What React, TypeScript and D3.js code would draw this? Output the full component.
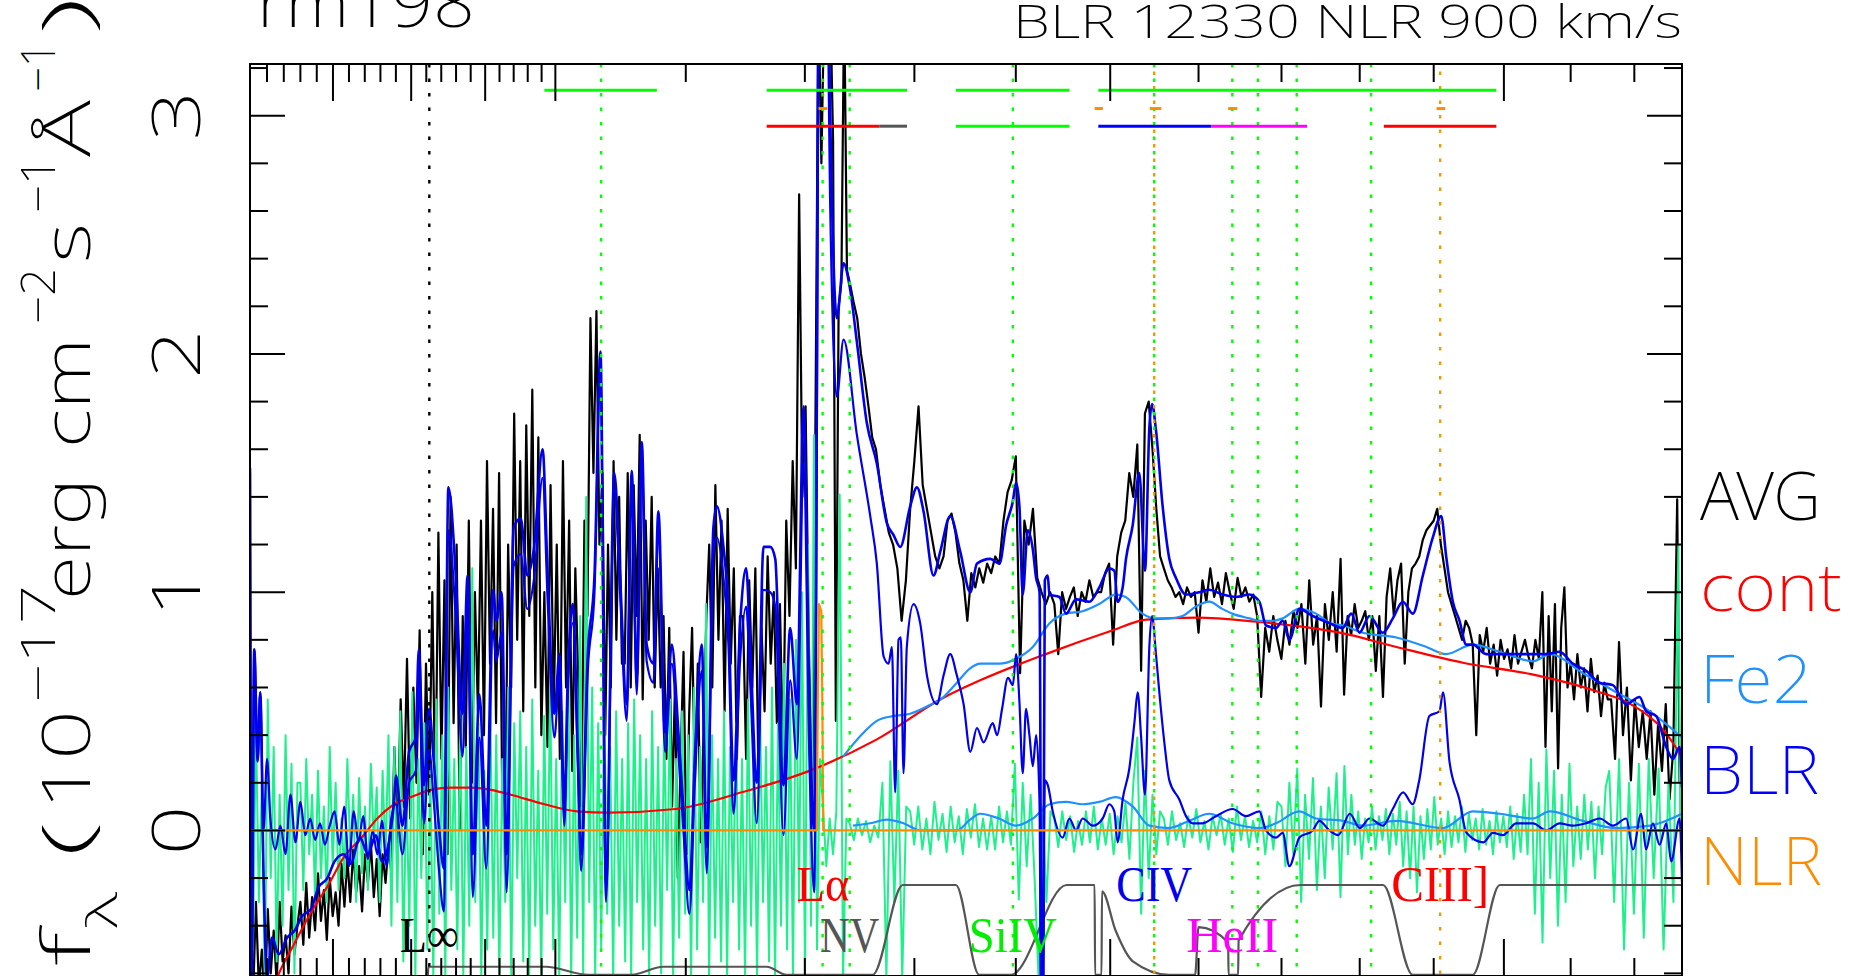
import React, { useEffect, useRef } from 'react';
import * as d3 from 'd3';

type Seg = [number, number, number[]];
type Pt = [number, number];

// AVG spectrum, read in wavelength chunks: [from Å, to Å, flux values]
const avgSegs: Seg[] = [
  [800, 830, [-0.45, -0.72, -0.3, -0.66, -0.5, -0.72, -0.33, -0.6, -0.42, -0.64, -0.3, -0.55, -0.44, -0.6, -0.32, -0.52, -0.4]],
  [830, 889, [-0.3, -0.48, -0.22, -0.45, -0.28, -0.42, -0.18, -0.38, -0.25, -0.46, -0.2, -0.36, -0.26, -0.4, -0.14, -0.32, -0.12, -0.3, -0.08, -0.26, -0.15, -0.34, -0.1, -0.22, -0.05, -0.28, -0.12, -0.36, -0.1, -0.22, -0.06, -0.18]],
  [889, 914, [0.35, -0.05, 0.55, 0.1, 0.72, 0.05, 0.6, 0.2, 0.84, -0.1, 0.7, 0.15]],
  [914, 945, [1.0, 0.1, 1.25, 0.3, 1.05, -0.1, 1.4, 0.45, 1.2, 0.0, 0.9, 0.35, 1.3, 0.2, 1.0]],
  [945, 992, [0.5, 1.3, 0.4, 1.55, 0.7, 1.35, 0.45, 1.5, 0.2, -0.05, 1.2, 0.6, 1.75, 0.8, 1.55, 0.5, 1.7, 0.9, 1.85, 0.6, 1.65, 0.4]],
  [992, 1017, [1.0, 0.35, 1.45, 0.5, 1.2, 0.3, 1.55, 0.6, 1.3, 0.25, 1.1]],
  [1017, 1035, [0.6, 0.1, 1.3, 0.9, 2.15, 1.5, 2.18, 1.2]],
  [1035, 1052, [1.5, 0.4, 1.2, 0.6, 1.55, 0.8, 1.4, 0.7]],
  [1052, 1080, [0.7, 1.5, 0.6, 1.45, 0.9, 1.66, 0.55, 1.3, 0.8, 1.4, 0.6, 1.1]],
  [1080, 1119, [0.6, 0.9, 0.3, 0.85, 0.1, 0.6, -0.2, 0.3, 0.75, -0.1, 0.5, 0.85, 0.2, 0.7, -0.05, 0.4, 0.9]],
  [1119, 1147, [1.2, 0.6, 1.45, 0.8, 1.3, 0.5, 1.35, 0.7, 1.1, 0.3, 0.9]],
  [1147, 1181, [0.9, 0.3, 1.05, 0.6, 1.1, 0.25, 0.85, 0.5, 1.15, 0.7, 1.0, 0.45, 0.95]],
  [1181, 1212, [0.3, 1.3, 0.9, 1.55, 1.1, 2.67, 1.4, 1.78, 0.8, 0.05, 1.6]],
  [1212, 1225, [3.5, 2.8, 3.5, 3.6, 3.5]],
  [1225, 1240, [2.9, 0.46, 2.2, 2.3, 3.5, 2.35]],
  [1240, 1264, [2.3, 2.22, 2.15, 2.0, 1.9, 1.78, 1.65]],
  [1264, 1296, [1.6, 1.45, 1.35, 1.25, 1.2, 1.1, 0.88, 1.05]],
  [1296, 1328, [1.35, 1.55, 1.78, 1.45, 1.35, 1.25, 1.15, 1.1]],
  [1328, 1375, [1.15, 1.3, 1.33, 1.25, 1.12, 1.05, 0.88, 1.08, 1.02, 1.1, 1.04, 1.12]],
  [1375, 1400, [1.08, 1.15, 1.12, 1.3, 1.42, 1.47]],
  [1400, 1440, [1.57, 0.66, 1.3, 1.2, 1.35, 1.06, 1.0, 0.95, 1.0]],
  [1440, 1490, [0.95, 0.74, 1.0, 0.93, 0.98, 1.02, 0.9, 1.0, 0.96, 1.05, 0.98, 1.0]],
  [1490, 1530, [1.0, 1.08, 1.12, 0.78, 1.15, 1.25, 1.3, 1.5, 1.4]],
  [1530, 1560, [1.62, 0.67, 1.75, 1.8, 1.6, 1.35, 1.15]],
  [1560, 1600, [1.1, 1.05, 1.02, 0.98, 1.0, 0.95, 1.02, 0.98, 1.0]],
  [1600, 1670, [0.83, 1.05, 0.96, 1.1, 0.98, 1.04, 0.95, 1.08, 1.0, 0.93, 1.06, 0.98, 1.02, 0.96, 0.99]],
  [1670, 1720, [0.9, 0.56, 0.85, 0.75, 0.9, 0.8, 0.72, 0.88, 0.78, 0.92]],
  [1720, 1775, [0.85, 0.95, 0.7, 1.05, 0.78, 0.9, 0.52, 0.95, 0.8, 1.0, 0.75]],
  [1775, 1826, [1.14, 0.57, 0.9, 0.82, 0.95, 0.85, 0.88, 0.92, 0.8, 0.9, 0.67]],
  [1826, 1880, [0.9, 0.56, 0.98, 1.1, 0.9, 1.05, 1.12, 0.7, 1.0, 1.1, 1.12]],
  [1880, 1915, [1.15, 1.22, 1.26, 1.28, 1.3, 1.35, 1.2]],
  [1915, 1960, [1.1, 1.0, 0.95, 0.9, 0.85, 0.8, 0.88, 0.85, 0.78]],
  [1960, 2057, [0.4, 0.82, 0.75, 0.85, 0.7, 0.78, 0.65, 0.8, 0.72, 0.76, 0.68, 0.82, 0.7, 0.75, 0.8, 0.73, 0.68, 0.8, 0.72]],
  [2057, 2100, [1.0, 0.35, 0.9, 0.5, 0.95, 0.26, 0.85, 1.02, 0.6]],
  [2100, 2163, [0.7, 0.55, 0.74, 0.6, 0.68, 0.5, 0.72, 0.58, 0.65, 0.48, 0.62, 0.55]],
  [2163, 2220, [0.55, 0.3, 0.79, 0.4, 0.6, 0.21, 0.55, 0.35, 0.5]],
  [2220, 2270, [0.3, 0.5, 0.15, 0.45, 0.25, 0.53, 0.13, 0.35]],
  [2270, 2278, [1.39, 0.2]],
];

// residual (data - model)
const residSegs: Seg[] = [
  [800, 830, [0.3, -0.5, 0.45, -0.3, 0.2, -0.65, 0.55, -0.2, 0.35, -0.55, 0.15, -0.4, 0.4, -0.25, 0.28, -0.6, 0.2]],
  [830, 889, [0.2, -0.25, 0.3, -0.1, 0.15, -0.28, 0.25, -0.2, 0.1, -0.3, 0.35, -0.15, 0.2, -0.25, 0.05, -0.2, 0.3, -0.1, 0.15, -0.3, 0.22, -0.18, 0.1, -0.25, 0.28, -0.05, 0.18, -0.3, 0.25, -0.12, 0.4, -0.4]],
  [889, 1216, [
    0.35, -0.3, 0.5, -0.55, 0.2, -0.4, 0.58, -0.62, 0.3, -0.2, 0.45, -0.5,
    0.25, -0.62, 0.55, -0.35, 0.4, -0.62, 0.6, -0.25, 0.3, -0.5, 0.5, -0.62,
    0.35, -0.4, 1.1, -0.3, 0.45, -0.62, 0.25, -0.5, 0.55, -0.45, 0.4, -0.62,
    0.3, -0.3, 0.6, -0.62, 0.45, -0.2, 0.5, -0.55, 0.35, -0.62, 0.55, -0.4,
    0.25, -0.62, 0.48, -0.35, 0.6, -0.5, 0.3, -0.62, 0.5, -0.3, 0.7, -0.62,
    0.4, -0.45, 0.9, -0.62, 1.4, -0.3, 0.6, -0.62, 0.45, -0.5, 0.55, -0.35,
    0.35, -0.62, 0.5, -0.4, 0.3, -0.55, 0.45, -0.62, 0.55, -0.3, 0.4, -0.5,
    0.3, -0.62, 0.5, -0.4, 0.35, -0.6, 0.45, -0.25, 0.55, -0.62, 0.3, -0.45,
    0.5, -0.35, 0.4, -0.62, 0.6, -0.5, 0.35, -0.3, 0.95, -0.62, 0.4, -0.45,
    0.3, -0.55, 0.5, -0.62, 0.35, -0.3, 0.45, -0.5, 0.3, -0.62, 0.55, -0.4,
    0.4, -0.62, 0.5, -0.3, 0.35, -0.55, 0.6, -0.62, 0.45, -0.4, 0.7, -0.5,
    0.55, -0.62, 0.8, -0.3, 1.0, -0.62, 1.2, -0.4, 1.66, -0.5, 0.3,
  ]],
  [1216, 1240, [0.1, -0.15, 0.05, -0.1, 0.08, 1.41, -0.62, 0.05]],
  [1240, 1270, [0.03, -0.04, 0.05, -0.02, 0.04, -0.05, 0.02, -0.03]],
  [1270, 1296, [0.2, -0.62, 0.29, -0.3, 0.25, -0.62, 0.1]],
  [1296, 1375, [0.08, -0.06, 0.1, -0.08, 0.05, -0.1, 0.12, -0.04, 0.07, -0.09, 0.1, -0.05, 0.06, -0.1, 0.09, -0.03, 0.11, -0.07, 0.05, -0.08]],
  [1375, 1440, [0.06, -0.08, 0.1, -0.05, 0.08, -0.06, 0.28, -0.29, 0.2, -0.15, 0.15, -0.2, -0.62, 0.1, -0.3, 0.08]],
  [1440, 1530, [0.05, -0.07, 0.08, -0.04, 0.06, -0.09, 0.04, -0.06, 0.08, -0.05, 0.1, -0.08, 0.05, -0.06, 0.07, -0.1, 0.06, -0.05, 0.12, -0.12, 0.2]],
  [1530, 1560, [0.39, -0.35, 0.25, -0.2, 0.15, -0.1, 0.08]],
  [1560, 1700, [0.05, -0.06, 0.08, -0.04, 0.03, -0.07, 0.06, -0.03, 0.09, -0.05, 0.04, -0.08, 0.06, -0.02, 0.07, -0.06, 0.05, -0.09, 0.1, -0.04, 0.06, -0.07, 0.04, -0.05, 0.08, -0.1, 0.06, -0.08, 0.12]],
  [1700, 1780, [0.1, -0.15, 0.2, -0.1, 0.26, -0.3, 0.15, -0.12, 0.22, -0.25, 0.1, -0.2, 0.18, -0.08, 0.24, -0.28]],
  [1780, 2040, [0.27, -0.1, 0.15, -0.06, 0.08, -0.12, 0.05, -0.05, 0.1, -0.08, 0.06, -0.04, 0.09, -0.1, 0.07, -0.06, 0.12, -0.15, 0.08, -0.2, 0.1, -0.26, 0.06, -0.12, 0.09, -0.08, 0.14, -0.06, 0.05, -0.1, 0.08, -0.07, 0.06, -0.05, 0.1, -0.09, 0.07, -0.04, 0.05, -0.08, 0.09, -0.06, 0.04, -0.1, 0.08, -0.05, 0.06, -0.07, 0.1, -0.12, 0.07, -0.09, 0.15, -0.1]],
  [2040, 2110, [0.3, -0.35, 0.2, -0.47, 0.34, -0.2, 0.25, -0.4, 0.15, -0.3, 0.28, -0.15]],
  [2110, 2160, [0.1, -0.12, 0.15, -0.08, 0.12, -0.2, 0.1, -0.1, 0.18]],
  [2160, 2272, [0.25, -0.3, 0.3, -0.5, 0.2, -0.35, 0.28, -0.45, 0.3, -0.2, 0.26, -0.5, 0.2, -0.3]],
  [2272, 2278, [1.2, 0.0]],
];

// power-law continuum
const contPts: Pt[] = [
  [805, -0.9], [816, -0.62], [826, -0.48], [836, -0.35], [847, -0.23], [857, -0.11], [868, -0.03], [878, 0.05],
  [889, 0.11], [900, 0.14], [913, 0.17], [927, 0.18], [940, 0.18], [954, 0.17], [968, 0.15], [992, 0.11],
  [1016, 0.08], [1040, 0.075], [1092, 0.09], [1146, 0.16], [1204, 0.25], [1264, 0.38], [1327, 0.555], [1364, 0.63],
  [1431, 0.74], [1503, 0.84], [1540, 0.885], [1598, 0.893], [1669, 0.876], [1739, 0.849], [1774, 0.83], [1849, 0.77],
  [1941, 0.704], [2040, 0.656], [2140, 0.584], [2194, 0.53], [2249, 0.416], [2278, 0.31],
];

// continuum + Fe II
const fe2ContPts: Pt[] = [
  [1234, 0.31], [1252.5, 0.41], [1264.8, 0.46], [1280, 0.48], [1296, 0.49], [1312, 0.52], [1328, 0.56], [1341, 0.62],
  [1354, 0.68], [1364, 0.7], [1383, 0.7], [1400, 0.72], [1417.5, 0.77], [1435, 0.87], [1452, 0.91], [1470, 0.92],
  [1488, 0.95], [1506, 0.99], [1517, 0.98], [1535.6, 0.91], [1551, 0.89], [1566, 0.89], [1581.5, 0.9], [1597, 0.94],
  [1612.6, 0.96], [1628, 0.93], [1640, 0.91], [1660.5, 0.89], [1673, 0.88], [1689, 0.88], [1701.5, 0.89], [1722, 0.93],
  [1743.5, 0.91], [1762, 0.87], [1778, 0.86], [1804, 0.83], [1849, 0.81], [1890, 0.77], [1917, 0.74], [1955, 0.78],
  [1994, 0.75], [2043, 0.71], [2068, 0.74], [2119, 0.66], [2171, 0.58], [2225, 0.5], [2278, 0.39],
];

// Fe II alone
const fe2Pts: Pt[] = [
  [1243, 0.02], [1258.7, 0.03], [1274, 0.045], [1289.7, 0.03], [1305.5, 0.0], [1325, 0.0], [1341, 0.0], [1354, 0.045],
  [1364, 0.07], [1383, 0.05], [1400, 0.02], [1417.5, 0.05], [1435, 0.11], [1452, 0.12], [1470, 0.11], [1488, 0.12],
  [1506, 0.14], [1525, 0.1], [1543.5, 0.02], [1566, 0.01], [1589, 0.04], [1612.6, 0.07], [1640, 0.03], [1673, 0.01],
  [1693, 0.03], [1722, 0.08], [1743.5, 0.05], [1778, 0.04], [1804, 0.02], [1849, 0.04], [1913, 0.01], [1955, 0.08],
  [1994, 0.07], [2043, 0.05], [2068, 0.08], [2119, 0.04], [2171, 0.01], [2225, 0.02], [2278, 0.07],
];

// full model (continuum + Fe II + BLR)
const modelPts: Pt[] = [
  [800, 1.52], [801, -0.62], [802.5, 0.76], [804.5, 0.29], [806, 0.58], [808, -0.2], [810, -0.62], [813, -0.45],
  [817, -0.52], [822, -0.45], [826.6, -0.42], [831, -0.36], [836.5, -0.33], [841, -0.24], [846.5, -0.2], [851, -0.13],
  [856.6, -0.1], [861, -0.14], [866.9, -0.03], [872, -0.1], [877, -0.02], [881, -0.13], [885.7, -0.04], [889, 0.14],
  [890, 0.23], [894.3, 0.02], [898.6, 0.33], [903, 0.39], [905, 0.76], [908.5, 0.19], [911.8, 0.51], [915, 0.29],
  [918.4, 0.02], [921.8, -0.16], [924.8, 1.44], [929.8, 1.07], [934.4, 0.49], [937.9, 1.07], [941.4, -0.1], [946, 0.57],
  [950.8, 0.02], [955.5, 1.01], [957.8, 0.88], [961.5, 1.0], [965, -0.1], [970, 1.27], [975, 1.31], [979.7, 1.07],
  [984.6, 1.19], [990.7, 1.6], [994.4, 1.07], [999.3, 0.49], [1003, 0.74], [1006.6, 0.1], [1009, 0.62], [1012.8, 0.95],
  [1016.6, 0.33], [1019, -0.1], [1024, 0.74], [1029, 1.07], [1033.5, 2.01], [1037.7, -0.23], [1044, 1.5], [1048.4, 1.07],
  [1053.5, 0.53], [1057.4, 1.51], [1061.3, 0.64], [1065.2, 1.63], [1069, 0.78], [1074.3, 0.7], [1078.2, 1.34], [1083.5, 0.41],
  [1088.8, 0.78], [1094.1, 0.41], [1098.1, 0.09], [1102.9, -0.25], [1107.5, 0.33], [1112.9, 0.78], [1117, -0.07], [1122.4, 1.27],
  [1125.2, 1.36], [1130.7, 1.19], [1134.8, 0.92], [1139, 0.21], [1144.6, 0.87], [1149.6, 1.1], [1153, 0.78], [1158.6, 0.2],
  [1164.3, 1.19], [1170, 1.19], [1174.3, 1.14], [1181.4, 0.19], [1187.2, 0.85], [1193, 0.53], [1198.9, 1.78], [1204.1, 0.53],
  [1208.2, 0.0], [1213.5, 4.5], [1218, 4.5], [1222.5, 2.99], [1228.4, 2.15], [1234.4, 2.38], [1240.4, 2.27], [1246.5, 2.05],
  [1255.6, 1.71], [1264.8, 1.54], [1274.1, 1.29], [1280.3, 1.24], [1286.6, 1.19], [1296, 1.36], [1302.4, 1.44], [1308.7, 1.34],
  [1318.3, 1.07], [1324.8, 1.17], [1334.5, 1.32], [1344.3, 1.17], [1354.2, 1.0], [1360.8, 1.12], [1374.1, 1.14], [1383.4, 1.12],
  [1390.1, 1.28], [1396.9, 1.38], [1400.3, 1.46], [1403.7, 1.36], [1407.1, 0.99], [1412.3, 1.26], [1417.5, 1.18], [1420.9, 1.06],
  [1424.5, 1.0], [1427.2, -1.5], [1430, 1.05], [1433.1, 1.07], [1434.8, 0.99], [1445.3, 0.98], [1452.4, 0.91], [1463, 0.97],
  [1477.3, 0.96], [1488.1, 1.02], [1499, 1.1], [1504.5, 1.09], [1508.1, 0.96], [1513.7, 1.02], [1517.4, 1.14], [1524.8, 1.28],
  [1532.2, 1.5], [1538.6, 1.09], [1543.5, 1.69], [1546.6, 1.79], [1551, 1.68], [1558.6, 1.36], [1566.2, 1.14], [1573.8, 1.06],
  [1585.4, 0.99], [1600.9, 1.0], [1612.6, 1.01], [1628.4, 0.99], [1644.4, 0.98], [1660.5, 0.99], [1672.7, 0.96], [1680.9, 0.86],
  [1693.2, 0.85], [1701.5, 0.88], [1709.8, 0.8], [1722.4, 0.93], [1739.3, 0.9], [1760.6, 0.87], [1777.9, 0.85], [1788.8, 0.91],
  [1799.7, 0.83], [1812.9, 0.9], [1830.6, 0.83], [1844.1, 0.89], [1857.6, 0.96], [1871.2, 0.91], [1885, 1.07], [1898.8, 1.23],
  [1910.4, 1.32], [1917.4, 1.15], [1926.8, 0.96], [1936.2, 0.88], [1945.7, 0.78], [1955.2, 0.78], [1974.3, 0.74], [1993.6, 0.74],
  [2013.1, 0.74], [2042.7, 0.74], [2062.7, 0.74], [2082.9, 0.75], [2103.3, 0.7], [2123.9, 0.67], [2144.7, 0.62], [2165.7, 0.61],
  [2186.9, 0.53], [2208.4, 0.56], [2219.2, 0.5], [2235.5, 0.48], [2251.9, 0.35], [2263, 0.3], [2274, 0.35], [2278, 0.18],
];

// broad-line component alone
const blrPts: Pt[] = [
  [800, 1.5], [801, -0.62], [802.5, 0.76], [804.5, 0.3], [806, 0.58], [808, 0.0], [810, 0.3], [812, 0.05],
  [815, -0.08], [818, 0.02], [821, -0.1], [824, 0.15], [827, -0.05], [830, 0.12], [833, -0.02], [836, 0.05],
  [839, -0.04], [842, 0.03], [845, -0.06], [848, 0.02], [851, 0.08], [854, -0.06], [857, 0.1], [860, -0.15],
  [863, 0.08], [866, -0.05], [869, 0.06], [872, -0.12], [875, 0.0], [878, -0.1], [881, 0.04], [884, -0.15],
  [887, 0.05], [890, 0.11], [894.3, -0.1], [898.6, 0.2], [903, 0.25], [905, 0.61], [908.5, 0.03], [911.8, 0.34],
  [915, 0.12], [918.4, -0.16], [921.8, -0.34], [924.8, 1.26], [929.8, 0.89], [934.4, 0.31], [937.9, 0.89], [941.4, -0.28],
  [946, 0.39], [950.8, -0.16], [955.5, 0.84], [957.8, 0.71], [961.5, 0.83], [965, -0.26], [970, 1.11], [975, 1.16],
  [979.7, 0.93], [984.6, 1.06], [990.7, 1.48], [994.4, 0.96], [999.3, 0.39], [1003, 0.65], [1006.6, 0.02], [1009, 0.54],
  [1012.8, 0.87], [1016.6, 0.26], [1019, -0.17], [1024, 0.67], [1029, 1.0], [1033.5, 1.94], [1037.7, -0.3], [1044, 1.43],
  [1048.4, 1.0], [1053.5, 0.46], [1057.4, 1.44], [1061.3, 0.57], [1065.2, 1.56], [1069, 0.71], [1074.3, 0.62], [1078.2, 1.26],
  [1083.5, 0.33], [1088.8, 0.7], [1094.1, 0.32], [1098.1, 0.0], [1102.9, -0.35], [1107.5, 0.23], [1112.9, 0.67], [1117, -0.18],
  [1122.4, 1.15], [1125.2, 1.23], [1130.7, 1.06], [1134.8, 0.78], [1139, 0.07], [1144.6, 0.72], [1149.6, 0.94], [1153, 0.62],
  [1158.6, 0.03], [1164.3, 1.01], [1170, 1.0], [1174.3, 0.94], [1181.4, -0.02], [1187.2, 0.63], [1193, 0.3], [1198.9, 1.54],
  [1204.1, 0.28], [1208.2, -0.26], [1213.5, 4.2], [1218, 4.2], [1222.5, 2.6], [1228.4, 1.82], [1234.4, 2.06], [1246.5, 1.66],
  [1258.7, 1.32], [1264.8, 1.12], [1271.1, 0.73], [1275.7, 0.7], [1278.8, 0.77], [1281.9, 0.16], [1285, 0.8], [1287.2, 0.81],
  [1289.7, 0.24], [1292.8, 0.77], [1299.2, 0.95], [1305.5, 0.87], [1312, 0.65], [1321.5, 0.53], [1328, 0.65], [1334.5, 0.74],
  [1341, 0.65], [1347.6, 0.53], [1354.2, 0.33], [1360.8, 0.43], [1367.4, 0.37], [1376.6, 0.45], [1381, 0.4], [1386, 0.51],
  [1392, 0.64], [1397, 0.61], [1400.3, 0.74], [1403.7, 0.54], [1407.1, 0.24], [1410.5, 0.51], [1414, 0.4], [1417.5, 0.27],
  [1421, 0.4], [1424.4, 0.13], [1427.2, -1.5], [1430, 0.21], [1433.1, 0.19], [1438.3, 0.08], [1448.8, -0.03], [1455.9, 0.05],
  [1463, 0.0], [1470.1, 0.05], [1480.9, 0.02], [1491.7, 0.05], [1499, 0.11], [1504.5, 0.08], [1508.1, -0.05], [1513.7, 0.13],
  [1521.1, 0.26], [1526.7, 0.45], [1530.4, 0.58], [1534.1, 0.4], [1538.6, 0.15], [1543.5, 0.77], [1546.6, 0.9], [1551, 0.74],
  [1554.8, 0.58], [1560.5, 0.37], [1566.2, 0.21], [1577.7, 0.13], [1585.4, 0.06], [1593.1, 0.03], [1604.8, 0.03], [1620.5, 0.06],
  [1640.4, 0.09], [1656.4, 0.06], [1672.7, 0.08], [1680.9, 0.0], [1693.2, -0.03], [1701.5, -0.01], [1709.8, -0.15], [1722.4, -0.03],
  [1739.3, 0.0], [1747.7, 0.04], [1760.6, 0.0], [1772, -0.02], [1787, 0.07], [1800, 0.01], [1813, 0.05], [1831, 0.02],
  [1844, 0.09], [1858, 0.16], [1871, 0.11], [1880, 0.21], [1894, 0.48], [1908, 0.5], [1913, 0.58], [1922, 0.29],
  [1936, 0.13], [1946, -0.01], [1970, -0.05], [1984, -0.01], [1998.5, -0.02], [2018, 0.03], [2043, 0.03], [2063, 0.0],
  [2083, 0.03], [2103, 0.02], [2124, 0.03], [2145, 0.05], [2166, 0.02], [2187, 0.05], [2198, -0.08], [2211, 0.07],
  [2219, -0.08], [2230, 0.03], [2241, -0.06], [2252, 0.03], [2260, -0.13], [2274, 0.05], [2278, -0.22],
];

// narrow-line component
const nlrPts: Pt[] = [
  [800, 0], [1210.5, 0], [1211.5, 0.6], [1212.5, 0.95], [1214.5, 0.92], [1215.5, 0.5], [1216.2, 0], [2278, 0],
];

// fitting mask (0..1)
const maskPts: Pt[] = [
  [911, 0], [911.5, 0.09], [993, 0.09], [1024, 0], [1057, 0], [1082, 0.09], [1167, 0.09], [1184, 0],
  [1261, 0], [1289, 1], [1340, 1], [1363, 0], [1395, 0], [1453, 1], [1483, 1], [1483.5, 0],
  [1490.5, 0], [1491, 0.93], [1506, 0.49], [1525, 0.15], [1566, 0], [1596, 0], [1600, 0.53], [1635, 0.36],
  [1635.5, 0], [1647, 0], [1647.5, 0.38], [1724, 1], [1831, 1], [1871, 0], [1955, 0], [1994, 1], [2278, 1],
];

const xMinorTicks = [810, 820, 830, 840, 860, 870, 880, 890, 910, 920, 930, 940, 960, 970, 980, 990, 1100, 1200, 1300, 1400, 1600, 1700, 1800, 1900, 2100, 2200];
const xMajorTicks = [850, 900, 950, 1000, 1500, 2000];
const yTickLabels = [0, 1, 2, 3];

const greenLines = [1034, 1215.67, 1240, 1397, 1549, 1640, 1671, 1719, 1815];
const orangeLines = [1549, 1909];
const lymanLines = [912];

const windowsRow1: [number, number, string][] = [
  [992, 1077, 'g'], [1167, 1293, 'g'], [1340, 1456, 'g'], [1487, 1989, 'g'],
];
const windowsRow2: [number, number, string][] = [
  [1167, 1267, 'r'], [1267, 1293, 'k'], [1340, 1456, 'g'], [1487, 1615, 'b'], [1615, 1732, 'm'], [1832, 1989, 'r'],
];
const nlrWindows: [number, number][] = [[1212, 1220], [1483, 1492], [1544, 1557], [1635, 1646], [1904, 1916]];

const lineLabels = [
  { text: 'L∞', lam: 912, row: 1 },
  { text: 'Lα', lam: 1216, row: 0 },
  { text: 'NV', lam: 1240, row: 1 },
  { text: 'SiIV', lam: 1397, row: 1 },
  { text: 'CIV', lam: 1549, row: 0 },
  { text: 'HeII', lam: 1640, row: 1 },
  { text: 'CIII]', lam: 1909, row: 0 },
];
const legendLabels = ['AVG', 'cont', 'Fe2', 'BLR', 'NLR'];

const COLORS: Record<string, string> = { g: '#00ff00', r: '#ff0000', b: '#0000ff', m: '#ff00ff', k: '#555555' };
const labelColor: Record<string, string> = { 'L∞': '#000', 'Lα': '#ff0000', NV: '#555555', SiIV: '#00ee00', CIV: '#0000ee', HeII: '#ff00ff', 'CIII]': '#ff0000' };
const labelWidth: Record<string, number> = { 'L∞': 59, 'Lα': 53, NV: 59, SiIV: 88, CIV: 76, HeII: 92, 'CIII]': 98 };
const legendColor = ['#000000', '#ff0000', '#1e90ff', '#0000ff', '#ff8c00'];
const legendWidth = [121, 142, 112, 119, 122];

const SERIF = '"Liberation Serif", "DejaVu Serif", serif';
const SANS = '"Noto Sans", Inter, sans-serif';

const expand = (segs: Seg[]): Pt[] =>
  segs.flatMap(([a, b, vals]) => vals.map((v, i) => [a * Math.pow(b / a, i / vals.length), v] as Pt));

const draw = (el: SVGSVGElement) => {
  const svg = d3.select(el);
  svg.selectAll('*').remove();

  const left = 250, right = 1682, top = 64, bottom = 976;
  const x = d3.scaleLog().domain([800, 2278]).range([left, right]);
  const y = d3.scaleLinear().domain([-0.611, 3.217]).range([bottom, top]);
  const maskY = d3.scaleLinear().domain([0, 1]).range([y(-0.606), y(-0.229)]);

  svg.append('rect').attr('width', 1854).attr('height', 976).attr('fill', '#fff');
  svg.append('defs').append('clipPath').attr('id', 'plotClip')
    .append('rect').attr('x', left).attr('y', top).attr('width', right - left).attr('height', bottom - top);

  const g = svg.append('g').attr('clip-path', 'url(#plotClip)');

  const raw = d3.line<Pt>().x((d) => x(d[0])).y((d) => y(d[1]));
  const smooth = d3.line<Pt>().x((d) => x(d[0])).y((d) => y(d[1])).curve(d3.curveMonotoneX);
  const maskLine = d3.line<Pt>().x((d) => x(d[0])).y((d) => maskY(d[1])).curve(d3.curveMonotoneX);

  const addPath = (d: string | null, color: string, w: number) =>
    g.append('path').attr('d', d || '').attr('fill', 'none').attr('stroke', color)
      .attr('stroke-width', w).attr('stroke-linejoin', 'round');

  addPath(raw(expand(avgSegs)), '#000', 2.2);
  addPath(raw(expand(residSegs)), '#1ef08c', 2);
  addPath(maskLine(maskPts), '#555555', 2.2);
  addPath(smooth(contPts), '#ff0000', 2.2);
  addPath(smooth(fe2ContPts), '#1e90ff', 2.2);
  addPath(smooth(fe2Pts), '#1e90ff', 2.2);
  addPath(smooth(blrPts), '#0000ee', 2.2);
  addPath(smooth(modelPts), '#0000ee', 2.6);
  addPath(raw(nlrPts), '#ff8c00', 2.2);

  const vline = (lam: number, color: string, offset: number) =>
    g.append('line').attr('x1', x(lam)).attr('x2', x(lam)).attr('y1', top).attr('y2', bottom)
      .attr('stroke', color).attr('stroke-width', 2.4).attr('stroke-dasharray', '3.5 11')
      .attr('stroke-dashoffset', offset);
  greenLines.forEach((l) => vline(l, '#00ff00', 0));
  orangeLines.forEach((l) => vline(l, '#ee9a00', 7));
  lymanLines.forEach((l) => vline(l, '#000', 0));

  const bar = (a: number, b: number, v: number, color: string) =>
    g.append('line').attr('x1', x(a)).attr('x2', x(b)).attr('y1', y(v)).attr('y2', y(v))
      .attr('stroke', color).attr('stroke-width', 3);
  windowsRow1.forEach(([a, b, c]) => bar(a, b, 3.107, COLORS[c]));
  windowsRow2.forEach(([a, b, c]) => bar(a, b, 2.956, COLORS[c]));
  nlrWindows.forEach(([a, b]) => bar(a, b, 3.03, '#ff8c00'));

  // line identifications
  lineLabels.forEach((l) => {
    svg.append('text').attr('x', x(l.lam)).attr('y', l.row === 0 ? 901 : 952)
      .attr('text-anchor', 'middle').attr('font-family', SERIF).attr('font-size', 50)
      .attr('fill', labelColor[l.text]).attr('textLength', labelWidth[l.text])
      .attr('lengthAdjust', 'spacingAndGlyphs').text(l.text);
  });

  // frame and ticks
  const axes = svg.append('g').attr('stroke', '#000').attr('stroke-width', 2);
  axes.append('rect').attr('x', left).attr('y', top).attr('width', right - left).attr('height', bottom - top)
    .attr('fill', 'none');
  const xt = (lam: number, len: number) => {
    axes.append('line').attr('x1', x(lam)).attr('x2', x(lam)).attr('y1', top).attr('y2', top + len);
    axes.append('line').attr('x1', x(lam)).attr('x2', x(lam)).attr('y1', bottom).attr('y2', bottom - len);
  };
  xMinorTicks.forEach((l) => xt(l, 18));
  xMajorTicks.forEach((l) => xt(l, 37));
  const yt = (v: number, len: number) => {
    axes.append('line').attr('x1', left).attr('x2', left + len).attr('y1', y(v)).attr('y2', y(v));
    axes.append('line').attr('x1', right).attr('x2', right - len).attr('y1', y(v)).attr('y2', y(v));
  };
  d3.range(-3, 17).forEach((i) => yt(i * 0.2, i % 5 === 0 ? 35 : 18));

  const txt = (t: string, xx: number, yy: number, size: number, color: string, len: number, rot = false) => {
    const s = svg.append('text').attr('x', xx).attr('y', yy).attr('font-family', SANS)
      .attr('font-weight', 200).attr('font-size', size).attr('fill', color)
      .attr('textLength', len).attr('lengthAdjust', 'spacingAndGlyphs').text(t);
    if (rot) s.attr('transform', `rotate(-90, ${xx}, ${yy})`);
    return s;
  };

  yTickLabels.forEach((v) => {
    txt(String(v), 200, y(v), 66, '#000', 50, true).attr('text-anchor', 'middle');
  });

  // axis title, rotated, pieces placed along the left edge
  const titlePieces: [string, number, number, number, number][] = [
    ['f', 90, 966, 66, 34],
    ['λ', 117, 928, 42, 36],
    ['(', 90, 858, 66, 38],
    ['10', 90, 810, 66, 100],
    ['−17', 55, 703, 48, 118],
    ['erg', 90, 600, 66, 122],
    ['cm', 90, 448, 66, 110],
    ['−2', 55, 324, 48, 56],
    ['s', 90, 263, 66, 40],
    ['−1', 55, 213, 48, 56],
    ['Å', 90, 157, 66, 57],
    ['−1', 55, 92, 48, 50],
    [')', 90, 36, 66, 40],
  ];
  titlePieces.forEach(([t, xx, yy, size, len]) => txt(t, xx, yy, size, '#000', len, true));

  txt('rm198', 257, 27, 66, '#000', 218);
  txt('BLR 12330 NLR 900 km/s', 1013, 38, 46, '#000', 669);

  legendLabels.forEach((t, i) => {
    txt(t, 1700, 520 + i * 91.3, 66, legendColor[i], legendWidth[i]);
  });
};

const App: React.FC = () => {
  const ref = useRef<SVGSVGElement>(null);
  useEffect(() => {
    if (ref.current) draw(ref.current);
  }, []);
  return (
    <svg ref={ref} width={1854} height={976}
      style={{ position: 'absolute', left: 0, top: 0, display: 'block', background: '#fff' }} />
  );
};

export default App;
